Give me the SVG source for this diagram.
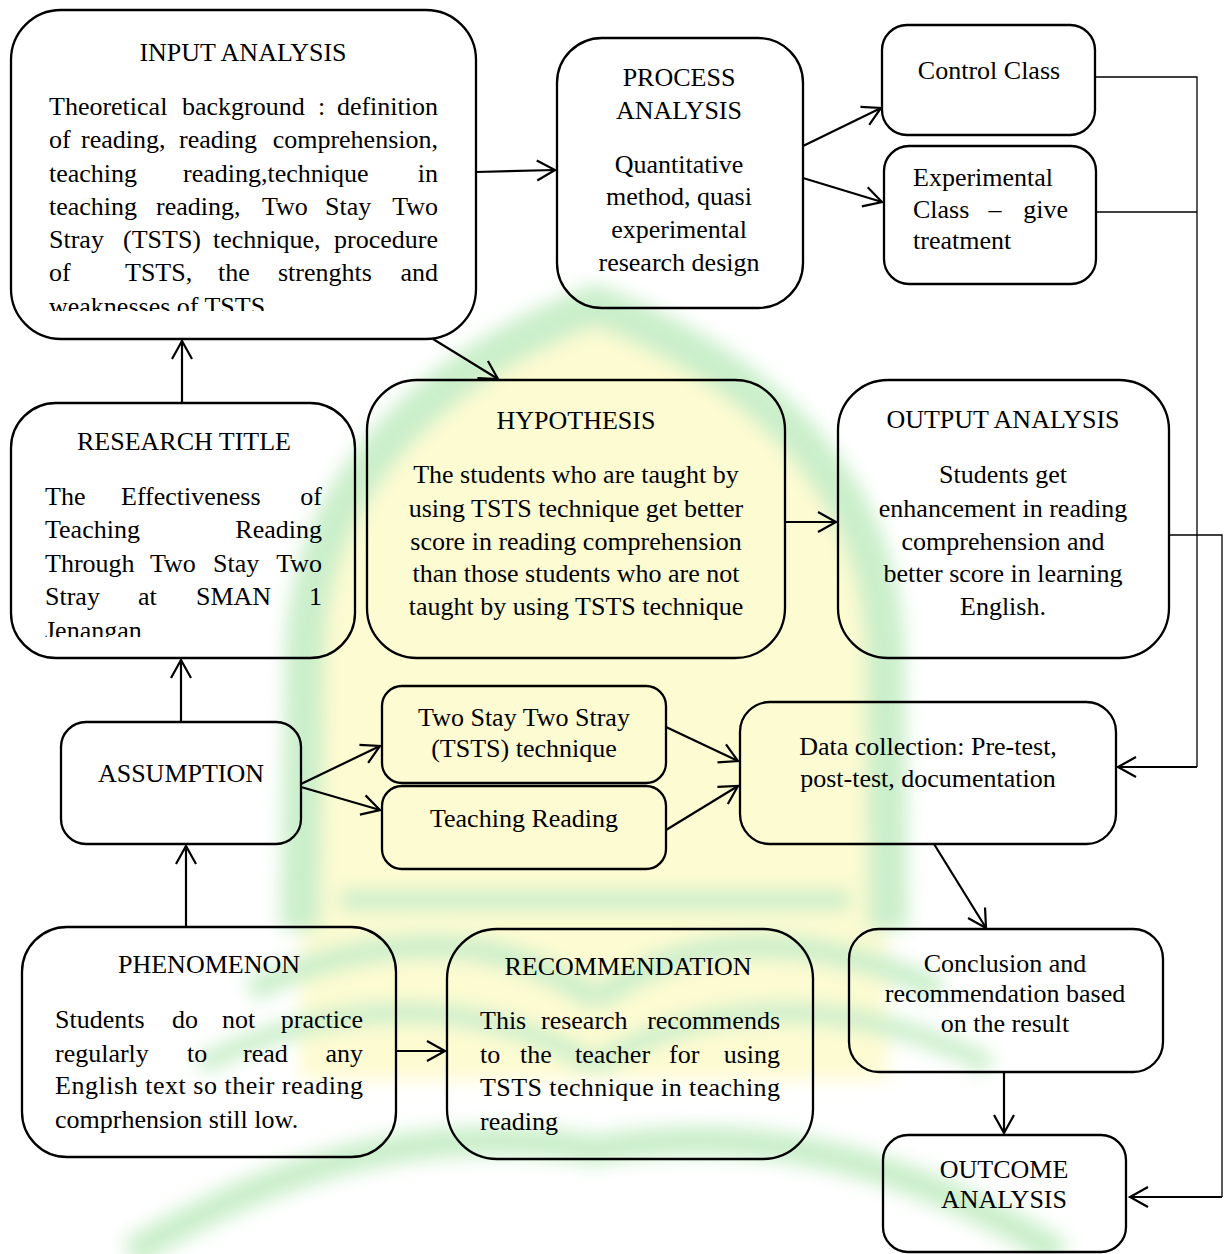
<svg xmlns="http://www.w3.org/2000/svg" width="1227" height="1254" viewBox="0 0 1227 1254">
<style>
.box{fill:none;stroke:#000;stroke-width:2.3}
.t{font-family:"Liberation Serif","Times New Roman",serif;font-size:26px;fill:#000}
.c{text-anchor:middle}
.e{text-anchor:end}
.ln{fill:none;stroke:#000;stroke-width:2.2}
.thin{fill:none;stroke:#000;stroke-width:1.3}
.wm{fill:none;stroke:#cbefcb}
</style>
<defs>
<marker id="arr" markerUnits="userSpaceOnUse" markerWidth="22" markerHeight="24" viewBox="0 0 22 24" refX="19" refY="12" orient="auto">
<path d="M1,2 L19,12 L1,22" fill="none" stroke="#000" stroke-width="2.2"/>
</marker>
<filter id="blur" x="-20%" y="-20%" width="140%" height="140%"><feGaussianBlur stdDeviation="9"/></filter>
<clipPath id="clipIn"><rect x="0" y="0" width="480" height="311"/></clipPath>
<clipPath id="clipRT"><rect x="0" y="400" width="360" height="237"/></clipPath>
</defs>
<rect width="1227" height="1254" fill="#fff"/>
<g id="watermark" filter="url(#blur)">
<path d="M300,1080 L305,650 C310,470 450,360 595,305 C740,360 880,470 885,650 L888,1080 Z" fill="#fdfbd2"/>
<path class="wm" stroke-width="40" d="M300,930 L305,650 C310,470 450,360 595,305 C740,360 880,470 885,650 L888,930"/>
<path class="wm" stroke-width="20" d="M340,900 L850,900"/>
<path class="wm" stroke-width="24" d="M595,1000 C500,930 380,930 250,990"/>
<path class="wm" stroke-width="24" d="M595,1000 C690,930 810,930 940,990"/>
<path class="wm" stroke-width="20" d="M595,1065 C480,995 340,995 200,1065"/>
<path class="wm" stroke-width="20" d="M595,1065 C710,995 850,995 990,1065"/>
<path class="wm" stroke-width="30" d="M130,1254 C300,1150 450,1125 595,1150 C740,1125 890,1150 1060,1254"/>
</g>
<g id="connectors">
<line class="ln" x1="476" y1="172" x2="555" y2="170" marker-end="url(#arr)"/>
<line class="ln" x1="433" y1="339" x2="498" y2="379" marker-end="url(#arr)"/>
<line class="ln" x1="182" y1="403" x2="182" y2="341" marker-end="url(#arr)"/>
<line class="ln" x1="181" y1="722" x2="181" y2="660" marker-end="url(#arr)"/>
<line class="ln" x1="186" y1="927" x2="186" y2="846" marker-end="url(#arr)"/>
<line class="ln" x1="301" y1="784" x2="380" y2="746" marker-end="url(#arr)"/>
<line class="ln" x1="301" y1="787" x2="380" y2="810" marker-end="url(#arr)"/>
<line class="ln" x1="666" y1="727" x2="738" y2="761" marker-end="url(#arr)"/>
<line class="ln" x1="666" y1="830" x2="738" y2="786" marker-end="url(#arr)"/>
<line class="ln" x1="803" y1="146" x2="881" y2="108" marker-end="url(#arr)"/>
<line class="ln" x1="803" y1="178" x2="882" y2="202" marker-end="url(#arr)"/>
<line class="ln" x1="785" y1="522" x2="836" y2="522" marker-end="url(#arr)"/>
<line class="ln" x1="934" y1="844" x2="986" y2="928" marker-end="url(#arr)"/>
<line class="ln" x1="1004" y1="1072" x2="1004" y2="1133" marker-end="url(#arr)"/>
<line class="ln" x1="396" y1="1051" x2="445" y2="1051" marker-end="url(#arr)"/>
<polyline class="thin" points="1095,77 1197,77 1197,767"/>
<line class="thin" x1="1096" y1="212" x2="1197" y2="212"/>
<line class="ln" x1="1197" y1="767" x2="1118" y2="767" marker-end="url(#arr)"/>
<polyline class="thin" points="1169,535 1222,535 1222,1197"/>
<line class="ln" x1="1222" y1="1197" x2="1130" y2="1197" marker-end="url(#arr)"/>
</g>
<g id="input-analysis">
<rect class="box" x="11" y="10" width="465" height="329" rx="50"/>
<text class="t c" x="243" y="61">INPUT ANALYSIS</text>
<g clip-path="url(#clipIn)">
<text class="t" y="115"><tspan x="49">Theoretical</tspan><tspan x="182">background</tspan><tspan x="318">:</tspan></text>
<text class="t e" x="438" y="115">definition</text>
<text class="t" y="148"><tspan x="49">of</tspan><tspan x="81">reading,</tspan><tspan x="179">reading</tspan></text>
<text class="t e" x="438" y="148">comprehension,</text>
<text class="t" y="182"><tspan x="49">teaching</tspan><tspan x="183">reading,technique</tspan></text>
<text class="t e" x="438" y="182">in</text>
<text class="t" y="215"><tspan x="49">teaching</tspan><tspan x="156">reading,</tspan><tspan x="262">Two</tspan><tspan x="325">Stay</tspan></text>
<text class="t e" x="438" y="215">Two</text>
<text class="t" y="248"><tspan x="49">Stray</tspan><tspan x="123">(TSTS)</tspan><tspan x="213">technique,</tspan></text>
<text class="t e" x="438" y="248">procedure</text>
<text class="t" y="281"><tspan x="49">of</tspan><tspan x="125">TSTS,</tspan><tspan x="218">the</tspan><tspan x="278">strenghts</tspan></text>
<text class="t e" x="438" y="281">and</text>
<text class="t" x="49" y="315">weaknesses of TSTS.</text>
</g>
</g>
<g id="process-analysis">
<rect class="box" x="557" y="38" width="246" height="270" rx="45"/>
<text class="t c" x="679" y="86">PROCESS</text>
<text class="t c" x="679" y="119">ANALYSIS</text>
<text class="t c" x="679" y="173">Quantitative</text>
<text class="t c" x="679" y="205">method, quasi</text>
<text class="t c" x="679" y="238">experimental</text>
<text class="t c" x="679" y="271">research design</text>
</g>
<g id="control-class">
<rect class="box" x="882" y="25" width="213" height="110" rx="25"/>
<text class="t c" x="989" y="79">Control Class</text>
</g>
<g id="experimental-class">
<rect class="box" x="884" y="146" width="212" height="138" rx="25"/>
<text class="t" x="913" y="186">Experimental</text>
<text class="t" x="913" y="218">Class</text>
<text class="t c" x="995" y="218">–</text>
<text class="t e" x="1068" y="218">give</text>
<text class="t" x="913" y="249">treatment</text>
</g>
<g id="research-title">
<rect class="box" x="11" y="403" width="344" height="255" rx="45"/>
<text class="t c" x="184" y="450">RESEARCH TITLE</text>
<g clip-path="url(#clipRT)">
<text class="t" y="505"><tspan x="45">The</tspan><tspan x="121">Effectiveness</tspan></text>
<text class="t e" x="322" y="505">of</text>
<text class="t" x="45" y="538">Teaching</text>
<text class="t e" x="322" y="538">Reading</text>
<text class="t" y="572"><tspan x="45">Through</tspan><tspan x="150">Two</tspan><tspan x="213">Stay</tspan></text>
<text class="t e" x="322" y="572">Two</text>
<text class="t" y="605"><tspan x="45">Stray</tspan><tspan x="138">at</tspan><tspan x="196">SMAN</tspan></text>
<text class="t e" x="322" y="605">1</text>
<text class="t" x="45" y="639">Jenangan</text>
</g>
</g>
<g id="hypothesis">
<rect class="box" x="367" y="380" width="418" height="278" rx="50"/>
<text class="t c" x="576" y="429">HYPOTHESIS</text>
<text class="t c" x="576" y="483">The students who are taught by</text>
<text class="t c" x="576" y="517">using TSTS technique get better</text>
<text class="t c" x="576" y="550">score in reading comprehension</text>
<text class="t c" x="576" y="582">than those students who are not</text>
<text class="t c" x="576" y="615">taught by using TSTS technique</text>
</g>
<g id="output-analysis">
<rect class="box" x="838" y="380" width="331" height="278" rx="50"/>
<text class="t c" x="1003" y="428">OUTPUT ANALYSIS</text>
<text class="t c" x="1003" y="483">Students get</text>
<text class="t c" x="1003" y="517">enhancement in reading</text>
<text class="t c" x="1003" y="550">comprehension and</text>
<text class="t c" x="1003" y="582">better score in learning</text>
<text class="t c" x="1003" y="615">English.</text>
</g>
<g id="assumption">
<rect class="box" x="61" y="722" width="240" height="122" rx="25"/>
<text class="t c" x="181" y="782">ASSUMPTION</text>
</g>
<g id="tsts-technique">
<rect class="box" x="382" y="686" width="284" height="97" rx="20"/>
<text class="t c" x="524" y="726">Two Stay Two Stray</text>
<text class="t c" x="524" y="757">(TSTS) technique</text>
</g>
<g id="teaching-reading">
<rect class="box" x="382" y="786" width="284" height="83" rx="20"/>
<text class="t c" x="524" y="827">Teaching Reading</text>
</g>
<g id="data-collection">
<rect class="box" x="740" y="702" width="376" height="142" rx="30"/>
<text class="t c" x="928" y="755">Data collection: Pre-test,</text>
<text class="t c" x="928" y="787">post-test, documentation</text>
</g>
<g id="phenomenon">
<rect class="box" x="22" y="927" width="374" height="230" rx="45"/>
<text class="t c" x="209" y="973">PHENOMENON</text>
<text class="t" y="1028"><tspan x="55">Students</tspan><tspan x="172">do</tspan><tspan x="222">not</tspan></text>
<text class="t e" x="363" y="1028">practice</text>
<text class="t" y="1062"><tspan x="55">regularly</tspan><tspan x="187">to</tspan><tspan x="243">read</tspan></text>
<text class="t e" x="363" y="1062">any</text>
<text class="t" x="55" y="1094" textLength="308" lengthAdjust="spacing">English text so their reading</text>
<text class="t" x="55" y="1128">comprhension still low.</text>
</g>
<g id="recommendation">
<rect class="box" x="447" y="929" width="366" height="230" rx="50"/>
<text class="t c" x="628" y="975">RECOMMENDATION</text>
<text class="t" y="1029"><tspan x="480">This</tspan><tspan x="541">research</tspan></text>
<text class="t e" x="780" y="1029">recommends</text>
<text class="t" y="1063"><tspan x="480">to</tspan><tspan x="520">the</tspan><tspan x="575">teacher</tspan><tspan x="669">for</tspan></text>
<text class="t e" x="780" y="1063">using</text>
<text class="t" x="480" y="1096" textLength="300" lengthAdjust="spacing">TSTS technique in teaching</text>
<text class="t" x="480" y="1130">reading</text>
</g>
<g id="conclusion">
<rect class="box" x="849" y="929" width="314" height="143" rx="30"/>
<text class="t c" x="1005" y="972">Conclusion and</text>
<text class="t c" x="1005" y="1002">recommendation based</text>
<text class="t c" x="1005" y="1032">on the result</text>
</g>
<g id="outcome-analysis">
<rect class="box" x="883" y="1135" width="243" height="117" rx="25"/>
<text class="t c" x="1004" y="1178">OUTCOME</text>
<text class="t c" x="1004" y="1208">ANALYSIS</text>
</g>
</svg>
